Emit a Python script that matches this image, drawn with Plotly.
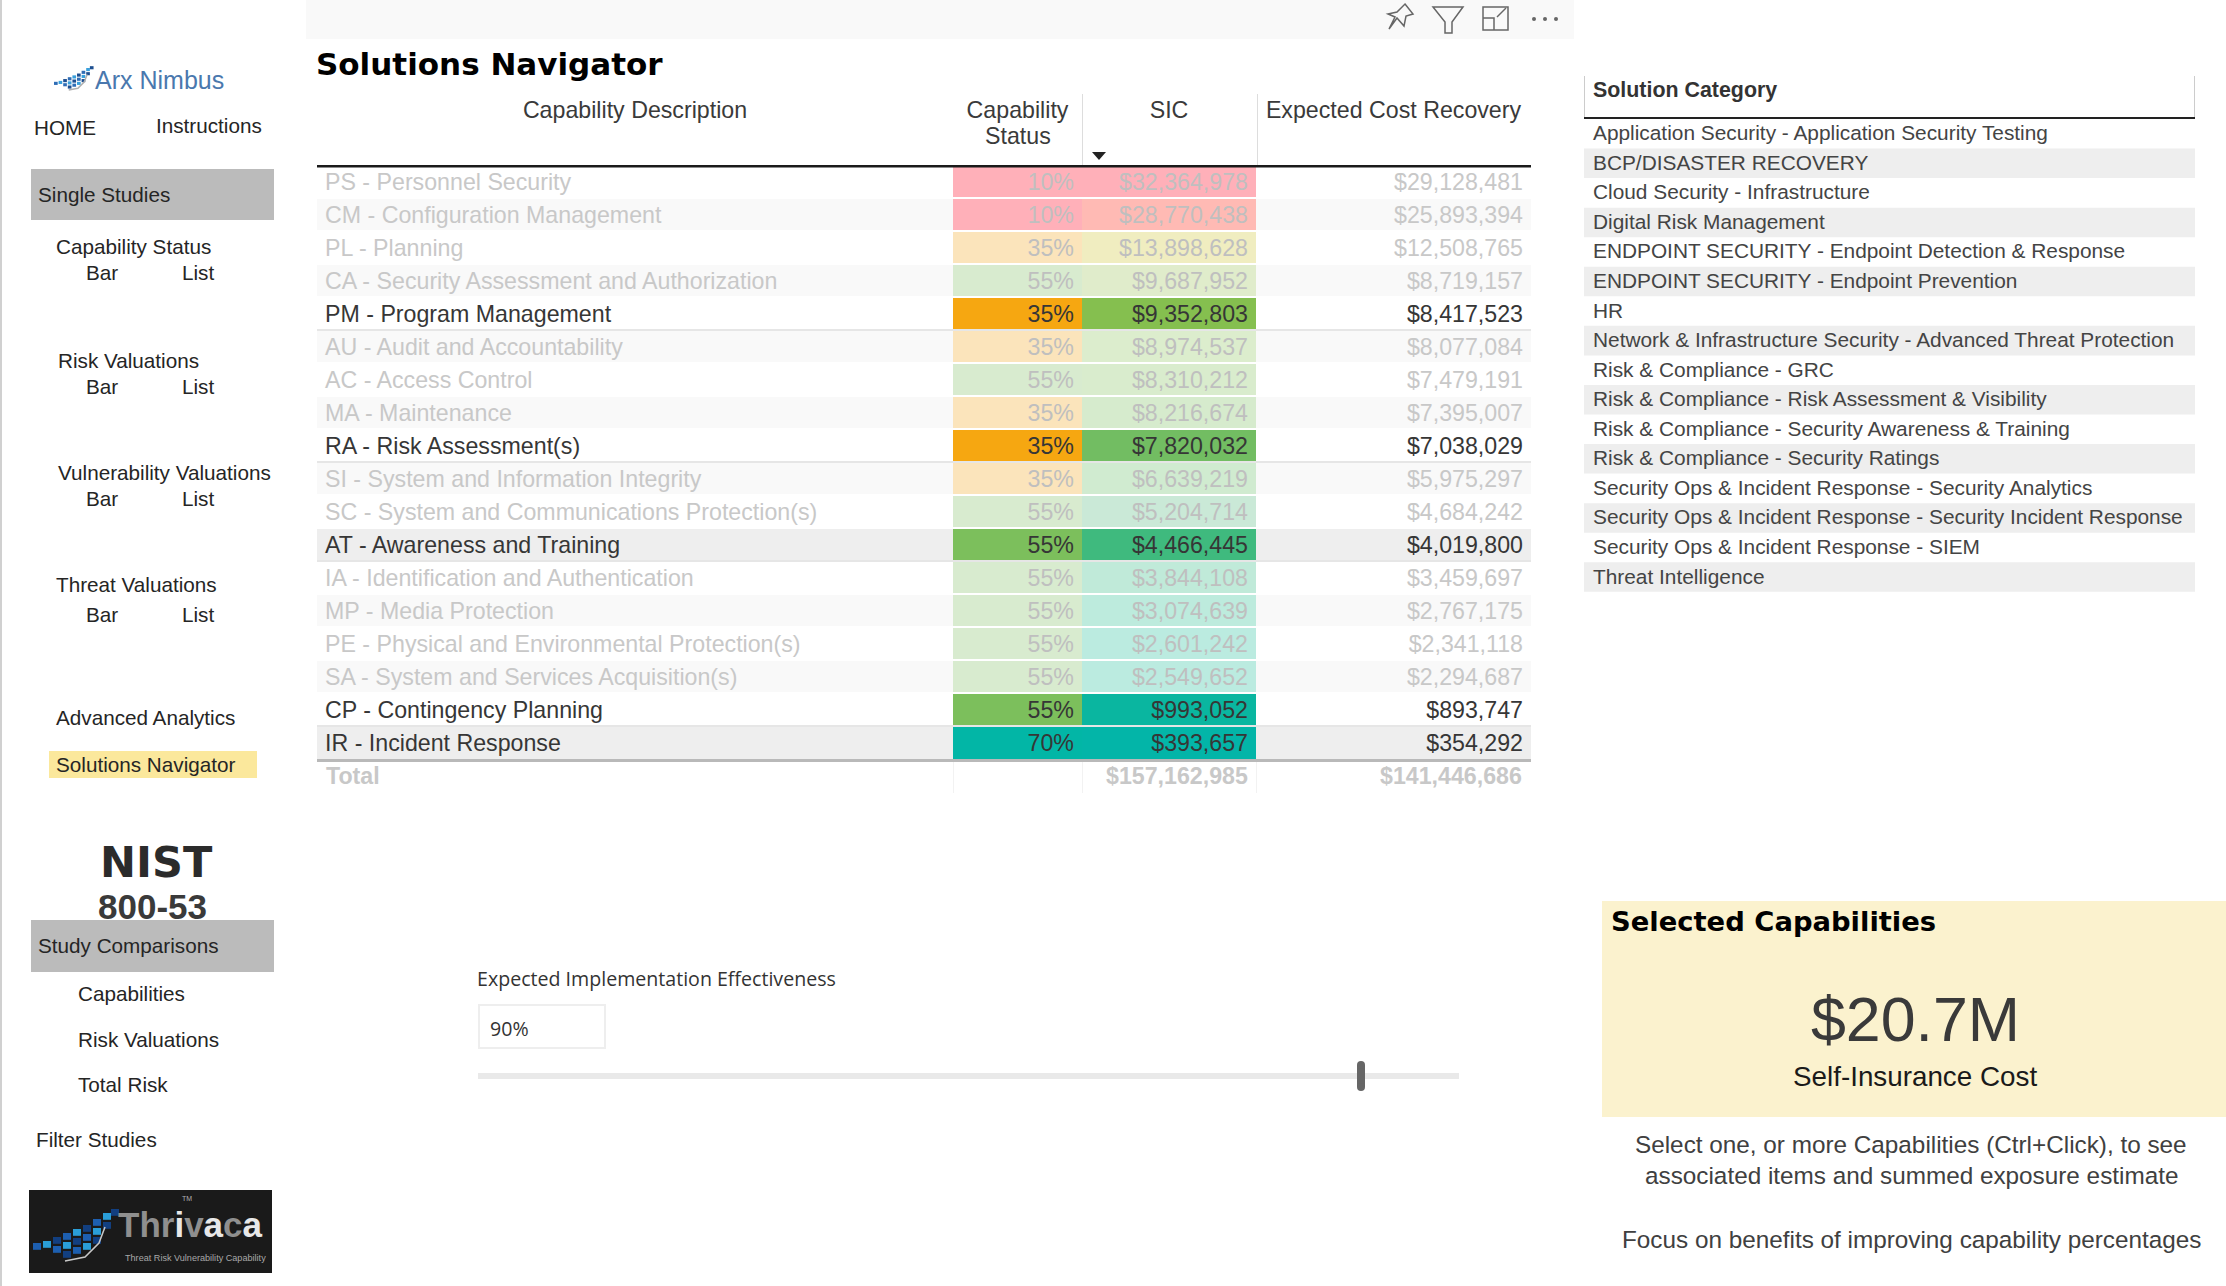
import plotly.graph_objects as go

W, H = 2226, 1286

# main table data
capabilities = [
    "PS - Personnel Security", "CM - Configuration Management", "PL - Planning",
    "CA - Security Assessment and Authorization", "PM - Program Management",
    "AU - Audit and Accountability", "AC - Access Control", "MA - Maintenance",
    "RA - Risk Assessment(s)", "SI - System and Information Integrity",
    "SC - System and Communications Protection(s)", "AT - Awareness and Training",
    "IA - Identification and Authentication", "MP - Media Protection",
    "PE - Physical and Environmental Protection(s)", "SA - System and Services Acquisition(s)",
    "CP - Contingency Planning", "IR - Incident Response",
]
status_pct = [10, 10, 35, 55, 35, 35, 55, 35, 35, 35, 55, 55, 55, 55, 55, 55, 55, 70]
sic = [32364978, 28770438, 13898628, 9687952, 9352803, 8974537, 8310212, 8216674, 7820032,
       6639219, 5204714, 4466445, 3844108, 3074639, 2601242, 2549652, 993052, 393657]
cost_recovery = [29128481, 25893394, 12508765, 8719157, 8417523, 8077084, 7479191, 7395007, 7038029,
                 5975297, 4684242, 4019800, 3459697, 2767175, 2341118, 2294687, 893747, 354292]
total_sic = 157162985
total_recovery = 141446686
selected = ["PM", "RA", "AT", "CP", "IR"]

# colours
status_colors = {10: "#ffb0b9", 35: "#f6a711", 55: "#7cbf5c", 70: "#02b6a6"}
status_faded = {10: "#ffb0b9", 35: "#fbe4bb", 55: "#d8ebcf", 70: "#b8e8e0"}
sic_colors = ["#ffb0b9", "#ffbab4", "#f0edc0", "#e0eccb", "#85bf4f", "#dcedcd", "#d9eccd", "#d6ebcd",
              "#72bd62", "#d0ebd0", "#cae9d7", "#3fba7e", "#c0ead9", "#bdebdd", "#bbebe0", "#bbebe0",
              "#0ab6a0", "#03b5a8"]

solution_categories = [
    "Application Security - Application Security Testing", "BCP/DISASTER RECOVERY",
    "Cloud Security - Infrastructure", "Digital Risk Management",
    "ENDPOINT SECURITY - Endpoint Detection & Response", "ENDPOINT SECURITY - Endpoint Prevention",
    "HR", "Network & Infrastructure Security - Advanced Threat Protection", "Risk & Compliance - GRC",
    "Risk & Compliance - Risk Assessment & Visibility", "Risk & Compliance - Security Awareness & Training",
    "Risk & Compliance - Security Ratings", "Security Ops & Incident Response - Security Analytics",
    "Security Ops & Incident Response - Security Incident Response",
    "Security Ops & Incident Response - SIEM", "Threat Intelligence",
]

# sidebar labels: text, left x, centre y
sidebar_labels = [
    ("HOME", 34, 127), ("Instructions", 156, 126), ("Single Studies", 38, 195),
    ("Capability Status", 56, 247), ("Bar", 86, 273), ("List", 182, 273),
    ("Risk Valuations", 58, 361), ("Bar", 86, 386), ("List", 182, 386),
    ("Vulnerability Valuations", 58, 472), ("Bar", 86, 498), ("List", 182, 498),
    ("Threat Valuations", 56, 584), ("Bar", 86, 614), ("List", 182, 614),
    ("Advanced Analytics", 56, 717), ("Solutions Navigator", 56, 764),
    ("Study Comparisons", 38, 945), ("Capabilities", 78, 993), ("Risk Valuations", 78, 1039),
    ("Total Risk", 78, 1084), ("Filter Studies", 36, 1139),
]

FONT = "Liberation Sans"
HEAVY = "DejaVu Sans"
shapes, annotations = [], []


def fx(x):
    return x / W


def fy(y):
    return 1 - y / H


def rect(x0, y0, x1, y1, color):
    shapes.append(dict(type="rect", xref="paper", yref="paper", x0=fx(x0), x1=fx(x1), y0=fy(y0), y1=fy(y1),
                       fillcolor=color, line_width=0, layer="above"))


def dot(x, y, r, color):
    shapes.append(dict(type="circle", xref="paper", yref="paper", x0=fx(x - r), x1=fx(x + r), y0=fy(y + r), y1=fy(y - r),
                       fillcolor=color, line_width=0, layer="above"))


def poly(points, color=None, fill=None, width=1.5, closed=False):
    d = "M" + " L".join(f"{fx(x):.5f},{fy(y):.5f}" for x, y in points) + (" Z" if closed else "")
    shapes.append(dict(type="path", xref="paper", yref="paper", path=d, fillcolor=fill or "rgba(0,0,0,0)",
                       line=dict(color=color or "rgba(0,0,0,0)", width=width), layer="above"))


def label(x, y, text, size=20.7, color="#252525", anchor="left", family=FONT):
    annotations.append(dict(x=fx(x), y=fy(y), xref="paper", yref="paper", text=text, showarrow=False,
                            xanchor=anchor, yanchor="middle", borderpad=0, borderwidth=0,
                            font=dict(family=family, size=size, color=color)))


def swoosh(x0, y0, s, blues, arc):
    # little block fan used by both logos, rising to the right
    fan = [(0, 15, 1), (5, 14, 1), (10, 12, 2), (15, 10, 3), (20, 8, 3), (25, 6, 3), (30, 3, 3), (35, 0, 2), (39, -2, 1)]
    for col, (dx, dy, n) in enumerate(fan):
        for r in range(n):
            rect(x0 + dx * s, y0 + (dy + r * 4.5) * s, x0 + (dx + 4) * s, y0 + (dy + r * 4.5 + 3.4) * s,
                 blues[(col + r) % len(blues)])
    poly([(x0 + 16 * s, y0 + 24 * s), (x0 + 26 * s, y0 + 22 * s), (x0 + 33 * s, y0 + 15 * s), (x0 + 36 * s, y0 + 7 * s)],
         arc, width=1.5)


is_selected = [c[:2] in selected for c in capabilities]
FADED = "#c8c8c8"
FADED_ON_FILL = "#bfbfbf"
DARK = "#363636"
text_colors = [DARK if s else FADED for s in is_selected]
fill_text_colors = [DARK if s else FADED_ON_FILL for s in is_selected]
plain_fill = []
for i, s in enumerate(is_selected):
    if i % 2 == 0:
        plain_fill.append("#ffffff")
    else:
        plain_fill.append("#eeeeee" if s else "#f9f9f9")
status_fill = [status_colors[p] if s else status_faded[p] for p, s in zip(status_pct, is_selected)]

main_values = [
    capabilities,
    [f"{p}%" for p in status_pct],
    [f"${v:,}" for v in sic],
    [f"${v:,}" for v in cost_recovery],
]

fig = go.Figure()
fig.add_trace(go.Table(
    domain=dict(x=[fx(317), fx(1531)], y=[fy(764), fy(93)]),
    columnwidth=[636, 129, 174, 275],
    header=dict(
        values=["Capability\u00a0Description", "Capability", "SIC", "Expected\u00a0Cost\u00a0Recovery"],
        align="center", height=72, fill_color="#ffffff", line_width=0,
        font=dict(family=FONT, size=23.2, color="#3a3a3a"),
    ),
    cells=dict(
        values=main_values, align=["left", "right", "right", "right"], height=33,
        fill_color=[plain_fill, status_fill, sic_colors, plain_fill], line_width=0,
        font=dict(family=FONT, size=23.2, color=[text_colors, fill_text_colors, fill_text_colors, text_colors]),
    ),
))
label(1018, 136, "Status", 23.2, "#3a3a3a", "center")

# total row
rect(317, 762, 1531, 793, "#ffffff")
label(326, 776, "<b>Total</b>", 23.2, FADED)
label(1248, 776, f"<b>${total_sic:,}</b>", 23.2, FADED, "right")
label(1522, 776, f"<b>${total_recovery:,}</b>", 23.2, FADED, "right")

# page furniture
rect(0, 0, 2, H, "#d0d0d0")
rect(306, 0, 1574, 39, "#f9f9f9")

# main table rules
for i, s in enumerate(is_selected[:-1]):
    y = 166 + 33 * (i + 1)
    rect(317, y - 2, 1531, y, "#e6e6e6" if s else "#ffffff")
rect(317, 165, 1531, 167.5, "#1a1a1a")
rect(317, 759, 1531, 762, "#b9b9b9")
for x in (1082, 1257):
    rect(x, 94, x + 1, 165, "#dddddd")
for x in (953, 1082, 1256):
    rect(x, 762, x + 1, 793, "#f2f2f2")
poly([(1092, 152), (1106, 152), (1099, 160)], fill="#222222", width=0, closed=True)

# solution category list
rect(1584, 76, 1585, 117, "#cccccc")
rect(2194, 76, 2195, 117, "#cccccc")
label(1593, 90, "<b>Solution Category</b>", 21.4, "#333333")
for i, name in enumerate(solution_categories):
    top = 119 + 29.55 * i
    if i % 2 == 1:
        rect(1584, top, 2195, top + 29.55, "#eeeeee")
    label(1593, top + 13.8, name, 20.85, "#444444")
rect(1584, 117, 2195, 119, "#222222")

# toolbar icons
poly([(1405, 4), (1413, 14), (1406, 16), (1404, 26), (1397, 18), (1389, 29), (1395, 17), (1388, 14), (1397, 12)], "#666666", closed=True)
poly([(1433, 7), (1463, 7), (1452, 22), (1452, 33), (1445, 33), (1445, 22)], "#666666", closed=True)
poly([(1483, 18), (1483, 7), (1508, 7), (1508, 30), (1483, 30), (1483, 18), (1494, 18), (1494, 30)], "#666666")
poly([(1497, 17), (1506, 8)], "#666666")
for x in (1534, 1545, 1556):
    dot(x, 19, 2, "#666666")

# titles
label(316, 64, "<b>Solutions Navigator</b>", 31, "#000000", family=HEAVY)

# sidebar
rect(31, 169, 274, 220, "#bbbbbb")
rect(31, 920, 274, 972, "#bbbbbb")
rect(49, 751, 257, 778, "#fbe89c")
for text, x, y in sidebar_labels:
    label(x, y, text)
swoosh(54, 68, 0.92, ["#2f6db5", "#39a0dc", "#1d4f91"], "#b0b0b0")
label(95, 80, "Arx Nimbus", 25, "#4a78ae")
label(100, 862, "<b>NIST</b>", 43, "#2b2b2b", family=HEAVY)
label(98, 906, "<b>800-53</b>", 35, "#3a3a3a")
rect(29, 1190, 272, 1273, "#1a1a1a")
swoosh(33, 1213, 2.0, ["#1d5fb0", "#2a9ed8", "#123f80"], "#c8c8c8")
thrivaca_word = ("<b><span style='color:#8f8f8f'>Thr</span><span style='color:#e8e8e8'>i</span>"
                 "<span style='color:#8f8f8f'>v</span><span style='color:#e8e8e8'>a</span>"
                 "<span style='color:#8f8f8f'>c</span><span style='color:#e8e8e8'>a</span></b>")
label(118, 1224, thrivaca_word, 35, "#8f8f8f")
label(182, 1198, "TM", 7, "#b0b0b0")
label(125, 1258, "Threat Risk Vulnerability Capability", 9.1, "#a8a8a8")

# slider
label(477, 978, "Expected Implementation Effectiveness", 19.6, "#333333", family="Open Sans")
shapes.append(dict(type="rect", xref="paper", yref="paper", x0=fx(479), x1=fx(605), y0=fy(1048), y1=fy(1005),
                   fillcolor="#ffffff", line=dict(color="#eeeeee", width=2), layer="above"))
label(490, 1028, "90%", 19.6, "#333333", family="Open Sans")
rect(478, 1073, 1459, 1079, "#e9e9e9")
rect(1357, 1065, 1365, 1087, "#666666")
dot(1361, 1065, 4, "#666666")
dot(1361, 1087, 4, "#666666")

# selected capabilities card
rect(1602, 901, W, 1117, "#fbf2ce")
label(1611, 921, "<b>Selected Capabilities</b>", 27.4, "#000000", family=HEAVY)
label(1915, 1019, "$20.7M", 62.7, "#3a3a3a", "center")
label(1915, 1076, "Self-Insurance Cost", 27.8, "#1a1a1a", "center")
label(1911, 1144, "Select one, or more Capabilities (Ctrl+Click), to see", 24.3, "#404040", "center")
label(1911, 1175, "associated items and summed exposure estimate", 24.3, "#404040", "center")
label(1911, 1239, "Focus on benefits of improving capability percentages", 24.3, "#404040", "center")

fig.update_layout(
    width=W, height=H, margin=dict(l=0, r=0, t=0, b=0), paper_bgcolor="#ffffff",
    shapes=shapes, annotations=annotations,
)
fig.write_html("out.html", config={"displayModeBar": False}, post_script="document.body.style.margin='0';")
